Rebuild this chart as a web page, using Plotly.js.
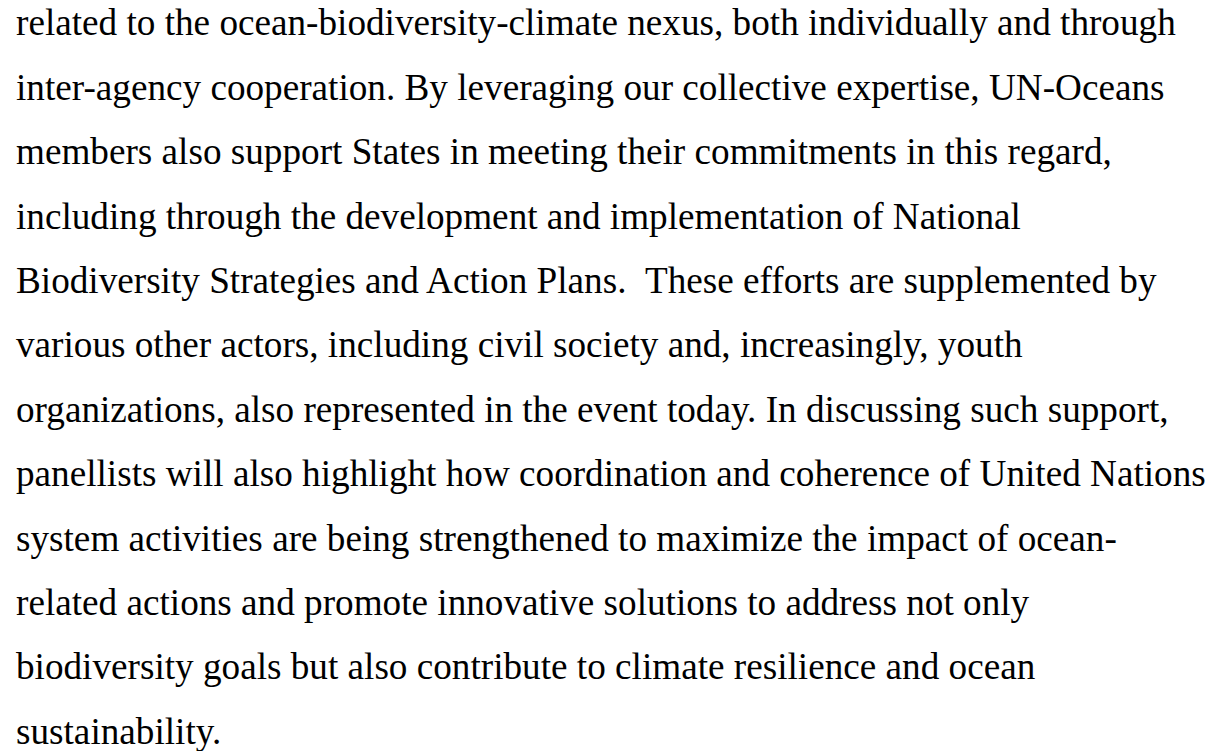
<!DOCTYPE html>
<html>
<head>
<meta charset="utf-8">
<script src="https://cdn.plot.ly/plotly-3.0.1.min.js"></script>
<style>
  html, body { margin: 0; padding: 0; background: #ffffff; }
  #chart { width: 1222px; height: 751px; }
</style>
</head>
<body>
<div id="chart"></div>
<script>
const lines = [
  "related to the ocean-biodiversity-climate nexus, both individually and through",
  "inter-agency cooperation. By leveraging our collective expertise, UN-Oceans",
  "members also support States in meeting their commitments in this regard,",
  "including through the development and implementation of National",
  "Biodiversity Strategies and Action Plans.  These efforts are supplemented by",
  "various other actors, including civil society and, increasingly, youth",
  "organizations, also represented in the event today. In discussing such support,",
  "panellists will also highlight how coordination and coherence of United Nations",
  "system activities are being strengthened to maximize the impact of ocean-",
  "related actions and promote innovative solutions to address not only",
  "biodiversity goals but also contribute to climate resilience and ocean",
  "sustainability."
];
const lineIndex = lines.map((_, i) => i);

const W = 1222, H = 751;
const lineStep = 64.4;     // px between baselines
const firstCenter = 22.8;  // px, vertical centre of first line's box
const fontSize = 37.2;

const r0 = -firstCenter / lineStep;
const r1 = r0 + H / lineStep;

const annotations = lines.map((t, i) => ({
  x: 0, y: lineIndex[i], xref: 'x', yref: 'y',
  text: t.replace(/  /g, ' &nbsp;'),
  showarrow: false, xanchor: 'left', yanchor: 'middle', align: 'left',
  font: { family: '"Liberation Serif", "Times New Roman", serif', size: fontSize, color: '#000000' },
  borderpad: 0
}));

const layout = {
  width: W, height: H,
  margin: { l: 15, r: 0, t: 0, b: 0, pad: 0 },
  paper_bgcolor: '#ffffff', plot_bgcolor: '#ffffff',
  showlegend: false,
  xaxis: { range: [0, 1], visible: false, fixedrange: true },
  yaxis: { range: [r1, r0], visible: false, fixedrange: true },
  annotations: annotations
};

Plotly.newPlot('chart', [{ x: [], y: [], type: 'scatter', hoverinfo: 'skip' }], layout, { staticPlot: true, displayModeBar: false });
</script>
</body>
</html>
